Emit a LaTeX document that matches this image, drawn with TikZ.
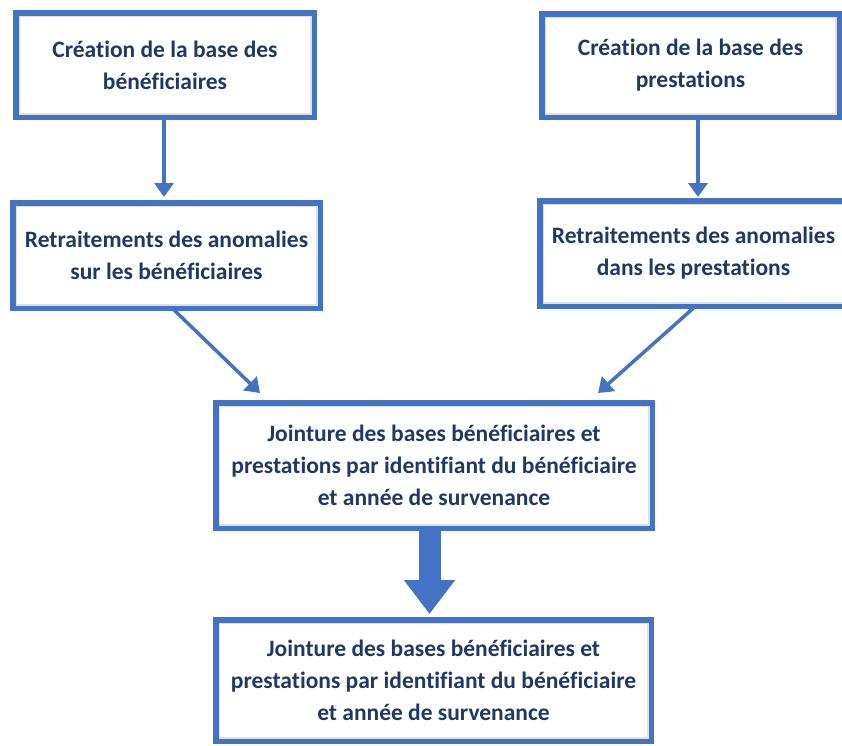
\documentclass[tikz,border=0pt]{standalone}
\usepackage{fontspec}
\setmainfont{Carlito}[Ligatures={NoCommon}]
\usetikzlibrary{arrows.meta}
\definecolor{bblue}{HTML}{4472C4}
\definecolor{navy}{HTML}{203864}
\tikzset{
  box/.style={draw=bblue, line width=5.5pt, fill=white, align=center, text=navy,
    font=\fontsize{23.5}{32}\selectfont\bfseries, inner sep=0pt,
    path picture={\draw[black!12,line width=9pt] (path picture bounding box.south west) rectangle (path picture bounding box.north east);}},
  thinarrow/.style={draw=bblue, line width=3.5pt, -{Triangle[width=19pt,length=14pt]}},
  bigarrow/.style={draw=bblue, line width=22pt, -{Triangle[width=49pt,length=34pt]}}
}
\begin{document}
\begin{tikzpicture}[x=1pt,y=1pt]
\useasboundingbox (0,0) rectangle (842,-745);
\clip (0,0) rectangle (842,-745);
\node[box, minimum width=298.5pt, minimum height=104.5pt] (b1) at (165,-65) {Création de la base des\\bénéficiaires};
\node[box, minimum width=297.5pt, minimum height=103.5pt] (b2) at (690.5,-65.5) {Création de la base des\\prestations};
\node[box, minimum width=307.5pt, minimum height=105.5pt] (b3) at (166.5,-255.5) {Retraitements des anomalies\\sur les bénéficiaires};
\node[box, minimum width=307.5pt, minimum height=105.5pt] (b4) at (693.5,-253.5) {Retraitements des anomalies\\dans les prestations};
\node[box, minimum width=436.5pt, minimum height=125.5pt] (b5) at (434,-465.5) {Jointure des bases bénéficiaires et\\prestations par identifiant du bénéficiaire\\et année de survenance};
\node[box, minimum width=435.5pt, minimum height=121.5pt] (b6) at (433.5,-680.5) {Jointure des bases bénéficiaires et\\prestations par identifiant du bénéficiaire\\et année de survenance};
\draw[thinarrow, shorten >=3pt] ([xshift=-1pt]b1.south) -- ([xshift=-2.5pt]b3.north);
\draw[thinarrow, shorten >=1pt] ([xshift=7.5pt]b2.south) -- ([xshift=4.5pt]b4.north);
\draw[thinarrow] ([xshift=5.5pt,yshift=3pt]b3.south) -- ([xshift=-174pt,yshift=7pt]b5.north);
\draw[thinarrow] ([yshift=1pt]b4.south) -- ([xshift=164pt,yshift=7pt]b5.north);
\draw[bigarrow, shorten >=3pt] ([xshift=-4.5pt,yshift=2.75pt]b5.south) -- ([xshift=-4pt]b6.north);
\end{tikzpicture}
\end{document}
